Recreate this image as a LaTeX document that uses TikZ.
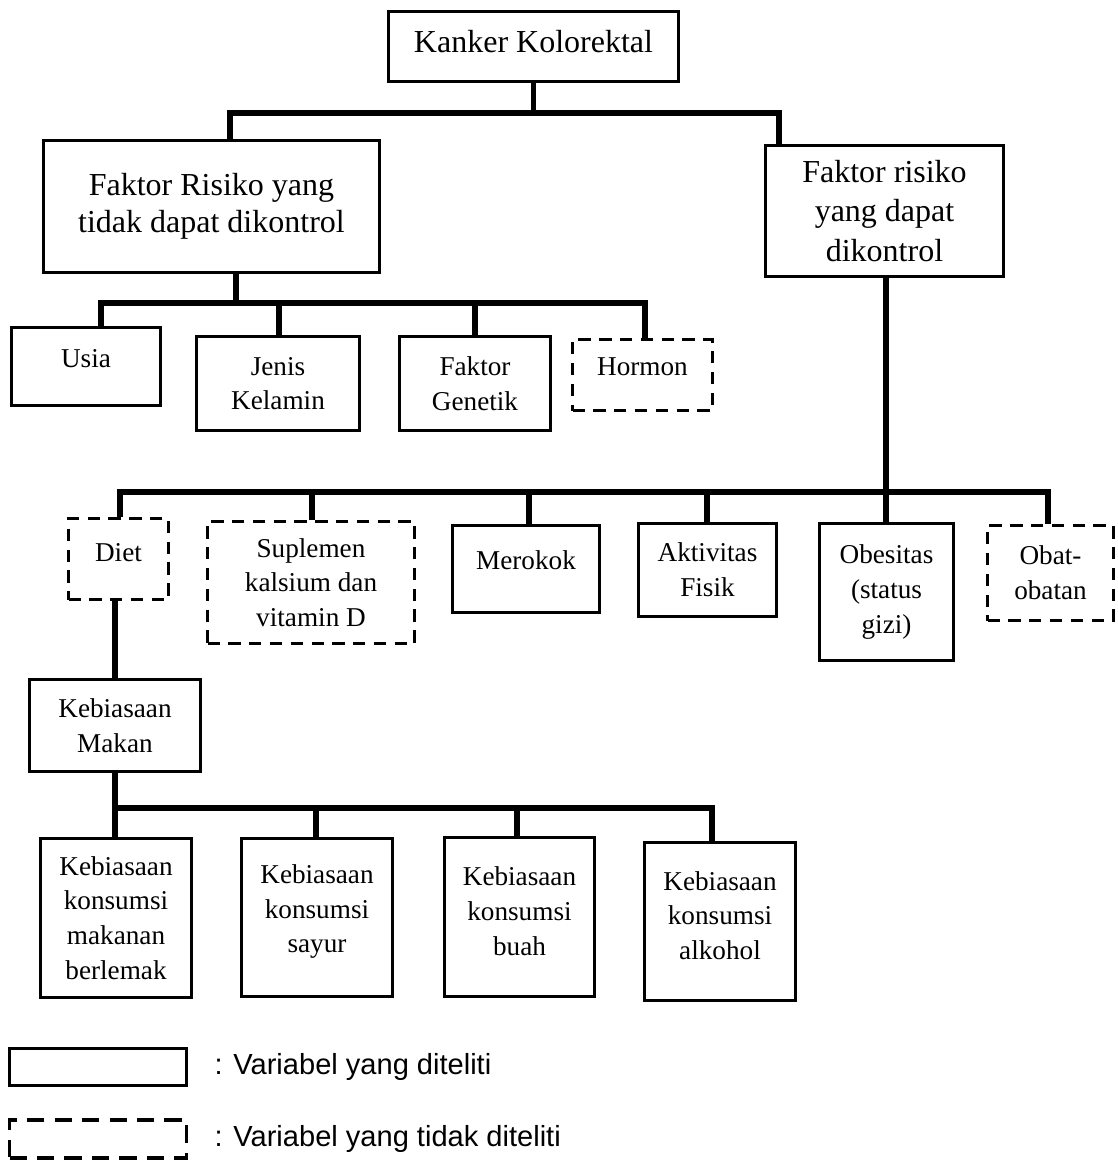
\documentclass[tikz,border=0pt]{standalone}
\usepackage{fontspec}
\setmainfont{Liberation Serif}
\newfontfamily\legendfont{Liberation Sans}
\begin{document}
\begin{tikzpicture}[
    x=0.375pt, y=-0.375pt,
    box/.style={draw, line width=1.1pt, align=center, inner sep=2pt},
    dbox/.style={box, line width=1.3pt, dash pattern=on 4.6pt off 3.2pt},
    big/.style={font=\fontsize{12}{14}\selectfont},
    small/.style={font=\fontsize{10.2}{13}\selectfont},
    wh/.style 2 args={minimum width=#1*0.375pt, minimum height=#2*0.375pt},
    liftup/.style={text depth=#1},
    conn/.style={line width=1.9pt},
    legtxt/.style={anchor=west, inner sep=0pt, font=\legendfont\fontsize{10.9}{13}\selectfont}
]
\useasboundingbox (0,0) rectangle (1118,1162);

% top level
\node[box, big, wh={290}{70}, liftup=3.75pt] (kanker) at (533.5,46.5) {Kanker Kolorektal};
\node[box, big, wh={336}{132}] (ftdk) at (211.5,206.5) {Faktor Risiko yang\\tidak dapat dikontrol};
\node[box, font=\fontsize{12}{14.8}\selectfont, wh={238}{131}] (fdk) at (884.5,211) {Faktor risiko\\yang dapat\\dikontrol};

% faktor yang tidak dapat dikontrol
\node[box, small, wh={149}{78}, liftup=6pt] (usia) at (86,366.5) {Usia};
\node[box, small, wh={163}{94}] (jenis) at (278,383.5) {Jenis\\Kelamin};
\node[box, small, wh={151}{94}] (genetik) at (475,383.5) {Faktor\\Genetik};
\node[dbox, small, wh={140}{71}, liftup=6pt] (hormon) at (642.5,375) {Hormon};

% faktor yang dapat dikontrol
\node[dbox, small, wh={100}{81}, liftup=5.2pt] (diet) at (118.5,559) {Diet};
\node[dbox, small, wh={207}{122}] (suplemen) at (311,582.5) {Suplemen\\kalsium dan\\vitamin D};
\node[box, small, wh={147}{87}, liftup=6.8pt] (merokok) at (526,569) {Merokok};
\node[box, small, wh={138}{93}] (aktivitas) at (707.5,570) {Aktivitas\\Fisik};
\node[box, small, wh={134}{137}] (obesitas) at (886.5,592) {Obesitas\\(status\\gizi)};
\node[dbox, small, wh={126}{95}] (obat) at (1050.5,573) {Obat-\\obatan};

% kebiasaan makan
\node[box, small, wh={171}{92}] (kmakan) at (115,725.5) {Kebiasaan\\Makan};
\node[box, small, wh={151}{159}] (k1) at (116,918) {Kebiasaan\\konsumsi\\makanan\\berlemak};
\node[box, small, wh={151}{158}, liftup=6.7pt] (k2) at (317,917.5) {Kebiasaan\\konsumsi\\sayur};
\node[box, small, wh={150}{159}, liftup=4.5pt] (k3) at (519.5,917) {Kebiasaan\\konsumsi\\buah};
\node[box, small, wh={151}{158}, liftup=4.5pt] (k4) at (720,921.5) {Kebiasaan\\konsumsi\\alkohol};

% connectors
\coordinate (b1l) at (230,113);
\coordinate (b1r) at (779,113);
\draw[conn] (kanker.south) -- (kanker.south |- b1l);
\draw[conn] (ftdk.north -| b1l) -- (b1l) -- (b1r) -- (fdk.north -| b1r);

\coordinate (b2p) at (236,303);
\coordinate (b2a) at (101,303);
\coordinate (b2b) at (279,303);
\coordinate (b2c) at (475,303);
\coordinate (b2d) at (645,303);
\draw[conn] (ftdk.south -| b2p) -- (b2p);
\draw[conn] (usia.north -| b2a) -- (b2a) -- (b2d) -- (hormon.north -| b2d);
\foreach \j/\n in {b2b/jenis, b2c/genetik}
    \draw[conn] (\j) -- (\n.north -| \j);

\coordinate (b3a) at (120,492);
\coordinate (b3b) at (312,492);
\coordinate (b3c) at (529,492);
\coordinate (b3d) at (707,492);
\coordinate (b3e) at (886,492);
\coordinate (b3f) at (1048,492);
\draw[conn] (fdk.south -| b3e) -- (obesitas.north -| b3e);
\draw[conn] (diet.north -| b3a) -- (b3a) -- (b3f) -- (obat.north -| b3f);
\foreach \j/\n in {b3b/suplemen, b3c/merokok, b3d/aktivitas}
    \draw[conn] (\j) -- (\n.north -| \j);

\draw[conn] (diet.south -| kmakan.north) -- (kmakan.north);

\coordinate (b4a) at (115,808);
\coordinate (b4b) at (316,808);
\coordinate (b4c) at (517,808);
\coordinate (b4d) at (712,808);
\draw[conn] (kmakan.south) -- (k1.north -| kmakan.south);
\draw[conn] (b4a) -- (b4d) -- (k4.north -| b4d);
\foreach \j/\n in {b4b/k2, b4c/k3}
    \draw[conn] (\j) -- (\n.north -| \j);

% legend
\node[box, wh={177}{37}] (leg1) at (98,1067) {};
\node[box, line width=1.3pt, dash pattern=on 6.5pt off 3.8pt, wh={177}{38}] (leg2) at (98,1139) {};
\node[legtxt] (leg1txt) at (214,1067) {: Variabel yang diteliti};
\node[legtxt] (leg2txt) at (214,1139) {: Variabel yang tidak diteliti};
\end{tikzpicture}
\end{document}
